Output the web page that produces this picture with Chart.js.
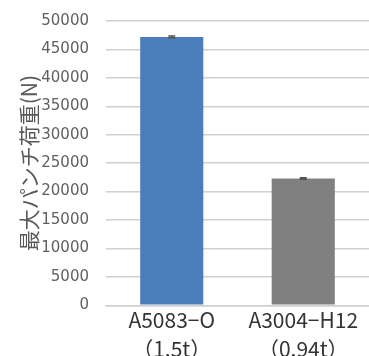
<!DOCTYPE html>
<html>
<head>
<meta charset="utf-8">
<script src="https://cdn.jsdelivr.net/npm/chart.js@4.4.0/dist/chart.umd.min.js"></script>
<style>
  html, body { margin: 0; padding: 0; background: #fff; overflow: hidden; }
  #wrap { width: 369px; height: 356px; overflow: hidden; }
  #mycanvas { display: block; margin-top: -5px; }
</style>
</head>
<body>
<div id="wrap"><canvas id="mycanvas" width="369" height="369"></canvas></div>
<script>
// data
var materials = [["A5083−O", "（1.5t）"], ["A3004−H12", "（0.94t）"]];
var punchLoad = [47200, 22300];
var loadError = [150, 150];
var barColors = ["#4a7ebb", "#808080"];
var yTitle = "最大パンチ荷重(N)";

// little plugin for the error bars, Chart.js has none built in
var errorBars = {
  id: "errorBars",
  afterDatasetsDraw: function(chart) {
    var ctx = chart.ctx;
    var meta = chart.getDatasetMeta(0);
    var y = chart.scales.y;
    ctx.save();
    ctx.strokeStyle = "#555555";
    ctx.lineWidth = 1.5;
    for (var i = 0; i < meta.data.length; i++) {
      var x = meta.data[i].x;
      var hi = y.getPixelForValue(punchLoad[i] + loadError[i]);
      var lo = y.getPixelForValue(punchLoad[i] - loadError[i]);
      ctx.beginPath();
      ctx.moveTo(x, hi); ctx.lineTo(x, lo);
      ctx.moveTo(x - 3.5, hi); ctx.lineTo(x + 3.5, hi);
      ctx.moveTo(x - 3.5, lo); ctx.lineTo(x + 3.5, lo);
      ctx.stroke();
    }
    ctx.restore();
  }
};

var ctx = document.getElementById("mycanvas");
var chart = new Chart(ctx, {
  type: "bar",
  data: {
    labels: materials,
    datasets: [{
      data: punchLoad,
      backgroundColor: barColors,
      borderWidth: 0,
      barPercentage: 0.48,
      categoryPercentage: 1
    }]
  },
  options: {
    responsive: false,
    animation: false,
    layout: { padding: { top: -11, right: 0, left: 0, bottom: 0 } },
    plugins: { legend: { display: false }, tooltip: { enabled: false } },
    scales: {
      x: {
        grid: { display: false, drawTicks: false },
        border: { display: true, color: "#d0d0d0", width: 1.5 },
        ticks: {
          color: "#333333",
          padding: 1,
          font: { family: "'Noto Sans CJK JP'", size: 21, lineHeight: 1.35 }
        }
      },
      y: {
        min: 0,
        max: 50000,
        border: { display: false },
        grid: { color: "#d0d0d0", lineWidth: 1.5, drawTicks: false },
        afterFit: function(scale) { scale.width = 106; },
        ticks: {
          stepSize: 5000,
          color: "#606060",
          padding: 17,
          font: { family: "'DejaVu Sans'", size: 15 },
          callback: function(v) { return String(v); }
        },
        title: {
          display: true,
          text: yTitle,
          color: "#595959",
          padding: { top: 16, bottom: 0 },
          font: { family: "'Noto Sans CJK JP'", size: 21 }
        }
      }
    }
  },
  plugins: [errorBars]
});
</script>
</body>
</html>
